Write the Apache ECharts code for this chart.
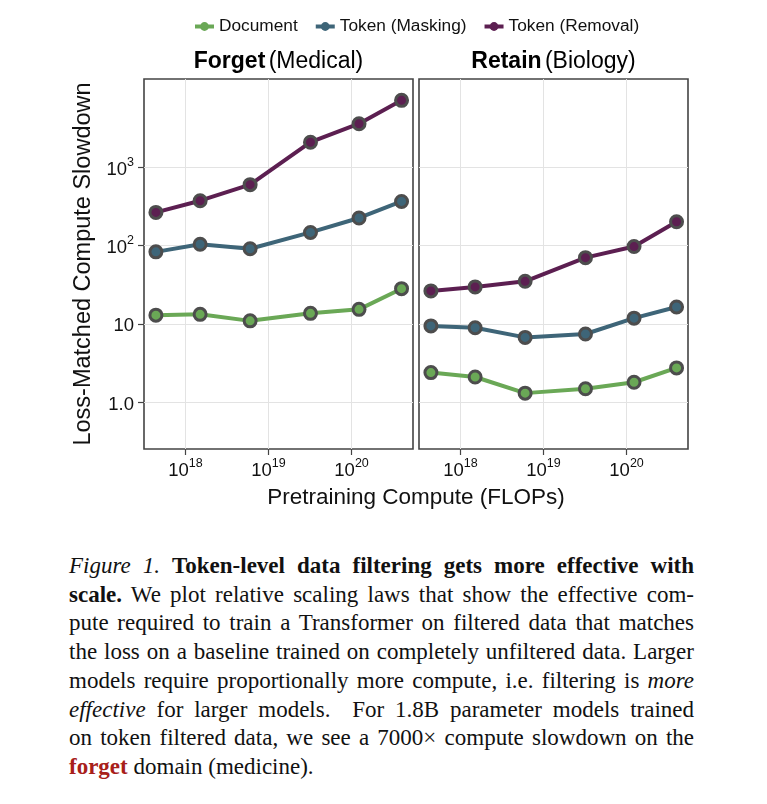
<!DOCTYPE html>
<html>
<head>
<meta charset="utf-8">
<script src="https://cdn.jsdelivr.net/npm/echarts@6/dist/echarts.min.js"></script>
<style>
  html, body { margin: 0; padding: 0; background: #fff; }
  #chart { position: absolute; left: 0; top: 0; width: 767px; height: 545px; }
  #caption { position: absolute; left: 69px; top: 552px; width: 625px;
    font-family: 'Liberation Serif', 'Times New Roman', serif; font-size: 23px; line-height: 28.7px; color: #111; }
  #caption .ln { text-align: justify; text-align-last: justify; }
  #caption .last { text-align: left; text-align-last: left; }
  #caption .red { color: #a8201a; font-weight: bold; }
</style>
</head>
<body>
<div id="chart"></div>
<div id="caption">
  <div class="ln"><i>Figure 1.</i> <b>Token-level data filtering gets more effective with</b></div>
  <div class="ln"><b>scale.</b> We plot relative scaling laws that show the effective com-</div>
  <div class="ln">pute required to train a Transformer on filtered data that matches</div>
  <div class="ln">the loss on a baseline trained on completely unfiltered data. Larger</div>
  <div class="ln">models require proportionally more compute, i.e. filtering is <i>more</i></div>
  <div class="ln"><i>effective</i> for larger models.&nbsp; For 1.8B parameter models trained</div>
  <div class="ln">on token filtered data, we see a 7000× compute slowdown on the</div>
  <div class="ln last"><span class="red">forget</span> domain (medicine).</div>
</div>
<script>
// ---- data ----
const compute = [4.4e17, 1.5e18, 6.0e18, 3.2e19, 1.23e20, 4.0e20];
const seriesNames = ['Document', 'Token (Masking)', 'Token (Removal)'];
const forgetDocument = [12.9, 13.2, 10.9, 13.6, 15.3, 28.1];
const forgetMasking = [83, 104, 91, 147, 225, 366];
const forgetRemoval = [265, 374, 600, 2090, 3600, 7160];
const retainDocument = [2.38, 2.09, 1.30, 1.48, 1.79, 2.73];
const retainMasking = [9.4, 8.9, 6.7, 7.4, 11.8, 16.4];
const retainRemoval = [26.3, 29.6, 34.9, 70, 97, 201];
const xTicks = [1e18, 1e19, 1e20];
const yTicks = [1, 10, 100, 1000];
const panelTitles = [['Forget', '(Medical)'], ['Retain', '(Biology)']];
const xTitle = 'Pretraining Compute (FLOPs)';
const yTitle = 'Loss-Matched Compute Slowdown';

const colors = ['#6aa856', '#3e6578', '#5c1f51'];
const FONT = 'Liberation Sans, Arial, Helvetica, sans-serif';

const chart = echarts.init(document.getElementById('chart'), null, { renderer: 'canvas' });

const supRich = {
  b: { fontSize: 18.5, fontFamily: FONT, color: '#111', lineHeight: 24, verticalAlign: 'bottom' },
  s: { fontSize: 12.5, fontFamily: FONT, color: '#111', verticalAlign: 'top', lineHeight: 24, padding: [1, 0, 0, 0] }
};
function powLabel(v) {
  const e = Math.round(Math.log10(v));
  if (Math.abs(Math.log10(v) - e) > 1e-6) return '';
  if (e === 0) return '{b|1.0}';
  if (e === 1) return '{b|10}';
  return '{b|10}{s|' + e + '}';
}

const grids = [
  { left: 144, top: 79, width: 269, height: 370 },
  { left: 419, top: 79, width: 269, height: 370 }
];

function xAxis(i) {
  return {
    type: 'log', logBase: 10, gridIndex: i,
    min: Math.pow(10, 17.5), max: Math.pow(10, 20.74),
    axisLine: { show: false },
    axisTick: { show: true, length: 6, lineStyle: { color: '#444', width: 1.2 }, customValues: xTicks },
    axisLabel: { customValues: xTicks, formatter: powLabel, rich: supRich, margin: 7 },
    splitLine: { show: true, lineStyle: { color: '#e3e3e3', width: 1 } },
    minorTick: { show: false }
  };
}
function yAxis(i) {
  return {
    type: 'log', logBase: 10, gridIndex: i,
    min: Math.pow(10, -0.6), max: Math.pow(10, 4.128),
    axisLine: { show: false },
    axisTick: { show: i === 0, length: 6, lineStyle: { color: '#444', width: 1.2 }, customValues: yTicks },
    axisLabel: { show: i === 0, customValues: yTicks, formatter: powLabel, rich: supRich, margin: 10 },
    splitLine: { show: true, lineStyle: { color: '#e3e3e3', width: 1 } },
    name: i === 0 ? yTitle : '',
    nameLocation: 'middle', nameGap: 48,
    nameTextStyle: { fontSize: 23.5, fontFamily: FONT, color: '#111' }
  };
}

function mkSeries(name, vals, idx, gi) {
  return {
    name: name, type: 'line', xAxisIndex: gi, yAxisIndex: gi,
    data: compute.map((c, k) => [c, vals[k]]),
    symbol: 'circle', symbolSize: 12,
    lineStyle: { color: colors[idx], width: 4 },
    itemStyle: { color: colors[idx], borderColor: '#4d4d4d', borderWidth: 3 },
    emphasis: { disabled: true },
    z: 2 + idx
  };
}

const series = [
  mkSeries(seriesNames[0], forgetDocument, 0, 0),
  mkSeries(seriesNames[1], forgetMasking, 1, 0),
  mkSeries(seriesNames[2], forgetRemoval, 2, 0),
  mkSeries(seriesNames[0], retainDocument, 0, 1),
  mkSeries(seriesNames[1], retainMasking, 1, 1),
  mkSeries(seriesNames[2], retainRemoval, 2, 1)
];

const titleRich = {
  t: { fontSize: 23, fontWeight: 'bold', fontFamily: FONT, color: '#111' },
  n: { fontSize: 23, fontFamily: FONT, color: '#111' }
};

chart.setOption({
  animation: false,
  backgroundColor: '#fff',
  textStyle: { fontFamily: FONT },
  legend: {
    data: seriesNames, left: 193, top: 18, padding: 0, itemWidth: 19, itemHeight: 11, itemGap: 16,
    textStyle: { fontSize: 17.3, fontFamily: FONT, color: '#111' },
    itemStyle: { borderWidth: 0 },
    lineStyle: { width: 4 }
  },
  grid: grids.map(g => Object.assign({ show: true, borderColor: '#444', borderWidth: 1.6, backgroundColor: 'transparent', containLabel: false }, g)),
  xAxis: [xAxis(0), xAxis(1)],
  yAxis: [yAxis(0), yAxis(1)],
  series: series,
  graphic: [
    { type: 'text', x: 278.5, y: 62, style: { text: '{t|' + panelTitles[0][0] + '} {n|' + panelTitles[0][1] + '}', rich: titleRich, align: 'center', verticalAlign: 'middle' } },
    { type: 'text', x: 553.5, y: 62, style: { text: '{t|' + panelTitles[1][0] + '} {n|' + panelTitles[1][1] + '}', rich: titleRich, align: 'center', verticalAlign: 'middle' } },
    { type: 'text', x: 416, y: 498, style: { text: xTitle, fontSize: 22.5, fontFamily: FONT, fill: '#111', align: 'center', verticalAlign: 'middle' } }
  ]
});
</script>
</body>
</html>
